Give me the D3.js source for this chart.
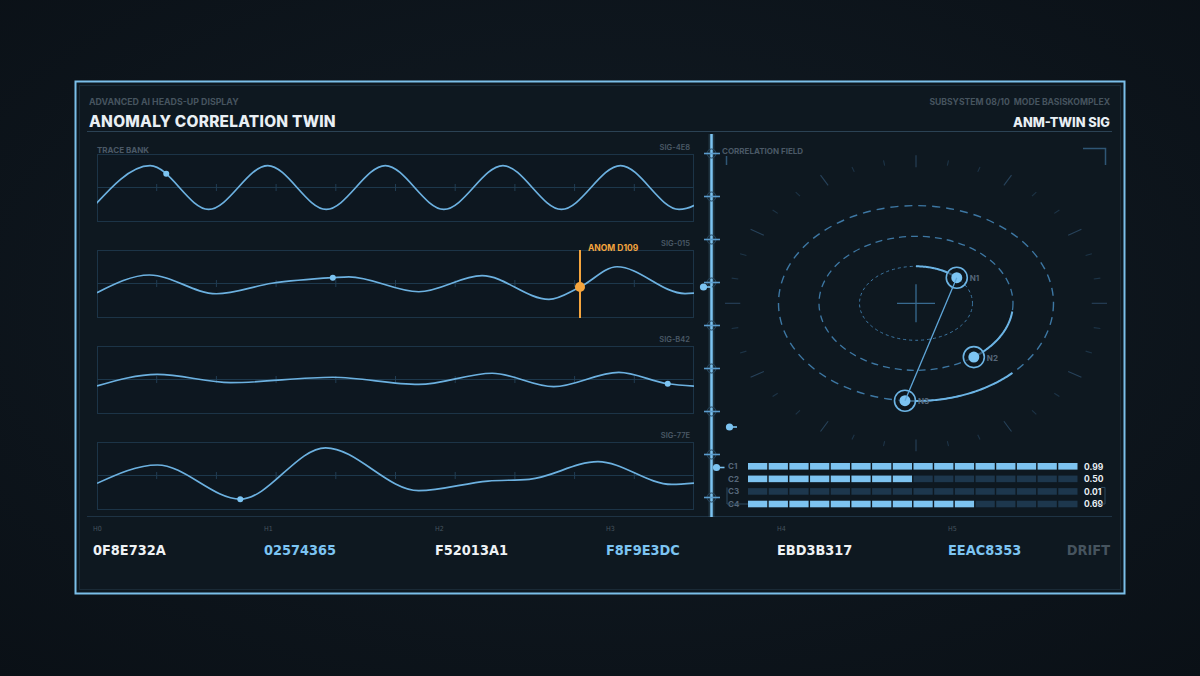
<!DOCTYPE html>
<html><head><meta charset="utf-8">
<script src="https://cdn.jsdelivr.net/npm/d3@7"></script>
<style>html,body{margin:0;padding:0;background:#0c1319;}svg{display:block}</style>
</head><body><svg id="c" width="1200" height="676"></svg>
<script>
// ---------- DATA ----------
const traceNames = ["SIG-4E8", "SIG-015", "SIG-B42", "SIG-77E"];
const sig4E8 = [[-1.0,-0.98],[8.9,0.98],[18.7,-0.98],[28.6,0.98],[38.4,-0.98],[48.3,0.98],[58.1,-0.98],[68.0,0.98],[77.8,-0.98],[87.7,0.98],[97.5,-0.98],[107.4,0.98]];
const sig015 = [[0,-0.41],[8.8,0.38],[20,-0.46],[29.3,0.01],[39.5,0.26],[42.2,0.30],[53.9,-0.37],[64.5,0.35],[75.7,-0.71],[80.9,-0.16],[87.1,0.75],[98.5,-0.45],[100,-0.43]];
const sigB42 = [[0,-0.29],[10.1,0.23],[22.4,-0.14],[39.5,0.10],[53.9,-0.22],[66.2,0.28],[76.5,-0.32],[87.4,0.32],[95.6,-0.19],[100,-0.30]];
const sig77E = [[0,-0.35],[10.1,0.47],[24.0,-1.06],[38.3,1.24],[53.9,-0.68],[65.5,-0.25],[72.4,-0.17],[83.9,0.62],[96.3,-0.40],[100,-0.34]];
const traceMarkers = [11.6, 39.5, 95.6, 24.0];
const anomalyTrace = 1, anomalyT = 80.9, anomalyLabel = "ANOM D109";

const ringRx = [56.5, 97, 137.5];
const ringRy = [37, 67, 97.7];
const nodeNames = ["N1", "N2", "N3"];
const nodeRing = [0, 1, 2];
const nodeAngle = [43.8, -53.4, -94.6];
const arcRing = [0, 1, 2];
const arcFrom = [90, -7, -94.6];
const arcTo = [43.8, -53.4, -45.5];

const corrLabels = ["C1", "C2", "C3", "C4"];
const corrValues = [0.99, 0.50, 0.01, 0.69];

const hashLabels = ["H0", "H1", "H2", "H3", "H4", "H5"];
const hashValues = ["0F8E732A", "02574365", "F52013A1", "F8F9E3DC", "EBD3B317", "EEAC8353"];

// ---------- DRAW ----------
const svg = d3.select("#c");
const FONT = "Inter, 'DejaVu Sans', sans-serif";
const COND = "'DejaVu Sans Condensed', 'DejaVu Sans', sans-serif";
const light = "#7cc4f2", wave = "#6cb1e0", dim = "#4a5866", grid = "#1c3447";

const defs = svg.append("defs");
const bg = defs.append("radialGradient").attr("id","bg").attr("cx","50%").attr("cy","45%").attr("r","75%");
bg.append("stop").attr("offset","0%").attr("stop-color","#121c25");
bg.append("stop").attr("offset","100%").attr("stop-color","#0a1016");

svg.append("rect").attr("width",1200).attr("height",676).attr("fill","url(#bg)");

// frame
svg.append("rect").attr("x",75.5).attr("y",81.5).attr("width",1049).attr("height",512)
  .attr("fill","#0e1820").attr("stroke","#7bbfe9").attr("stroke-width",2);
svg.append("rect").attr("x",79.5).attr("y",85.5).attr("width",1041).attr("height",504)
  .attr("fill","none").attr("stroke","#1a2a36").attr("stroke-width",1);

// header
svg.append("text").attr("x",89).attr("y",105).text("ADVANCED AI HEADS-UP DISPLAY")
  .attr("font-family",FONT).attr("font-weight",700).attr("font-size",8.8).attr("fill","#46545f");
svg.append("text").attr("x",89).attr("y",127).text("ANOMALY CORRELATION TWIN")
  .attr("font-family",FONT).attr("font-weight",800).attr("font-size",15.4).attr("letter-spacing",0.25).attr("fill","#e9eff4");
svg.append("text").attr("x",1110).attr("y",105).attr("text-anchor","end").text("SUBSYSTEM 08/10  MODE BASISKOMPLEX")
  .attr("font-family",FONT).attr("font-weight",700).attr("font-size",8.6).attr("fill","#46545f").attr("xml:space","preserve");
svg.append("text").attr("x",1110).attr("y",127).attr("text-anchor","end").text("ANM-TWIN SIG")
  .attr("font-family",FONT).attr("font-weight",800).attr("font-size",12.8).attr("fill","#e9eff4");
svg.append("line").attr("x1",87).attr("x2",1112).attr("y1",131.5).attr("y2",131.5).attr("stroke","#2b4254");
svg.append("line").attr("x1",87).attr("x2",1112).attr("y1",516.5).attr("y2",516.5).attr("stroke","#1e3344");

// trace bank
svg.append("text").attr("x",97).attr("y",153).text("TRACE BANK")
  .attr("font-family",FONT).attr("font-weight",700).attr("font-size",8).attr("fill",dim);
const traces = [sig4E8, sig015, sigB42, sig77E];
const tx = d3.scaleLinear().domain([0,100]).range([97,694]);
const panelTop = i => 154 + 96*i, panelH = 67;

function yAtX(node, x){
  let lo=0, hi=node.getTotalLength();
  for(let k=0;k<40;k++){ const m=(lo+hi)/2; if(node.getPointAtLength(m).x < x) lo=m; else hi=m; }
  return node.getPointAtLength((lo+hi)/2).y;
}

traces.forEach((data,i)=>{
  const top = panelTop(i);
  const ty = d3.scaleLinear().domain([-1.5,1.5]).range([top+panelH, top]);
  const g = svg.append("g");
  defs.append("clipPath").attr("id","cp"+i).append("rect").attr("x",97).attr("y",top).attr("width",597).attr("height",panelH);
  g.append("rect").attr("x",97.5).attr("y",top+0.5).attr("width",596).attr("height",panelH)
    .attr("fill","#0d1720").attr("stroke",grid);
  g.append("line").attr("x1",97).attr("x2",694).attr("y1",ty(0)).attr("y2",ty(0)).attr("stroke","#1d384c");
  const ticks = tx.ticks(10).filter(d=>d>0&&d<100);
  g.selectAll(".tk").data(ticks).join("line").attr("x1",d=>tx(d)).attr("x2",d=>tx(d))
    .attr("y1",ty(0)-3.5).attr("y2",ty(0)+3.5).attr("stroke","#213d53");
  g.append("text").attr("x",690).attr("y",top-4).attr("text-anchor","end").text(traceNames[i])
    .attr("font-family",FONT).attr("font-weight",600).attr("font-size",7.5).attr("fill",dim);
  const line = d3.line().x(d=>tx(d[0])).y(d=>ty(d[1])).curve(d3.curveMonotoneX);
  const p = g.append("path").attr("d",line(data)).attr("fill","none").attr("stroke",wave)
    .attr("stroke-width",1.7).attr("clip-path","url(#cp"+i+")");
  const mx = tx(traceMarkers[i]);
  g.append("circle").attr("cx",mx).attr("cy",yAtX(p.node(),mx)).attr("r",3).attr("fill",light);
  if(i===anomalyTrace){
    const ax = tx(anomalyT);
    g.append("line").attr("x1",ax).attr("x2",ax).attr("y1",top).attr("y2",top+panelH+1)
      .attr("stroke","#f5a53e").attr("stroke-width",2);
    g.append("circle").attr("cx",ax).attr("cy",yAtX(p.node(),ax)).attr("r",5).attr("fill","#f5a53e");
    g.append("text").attr("x",ax+8).attr("y",top+1).text(anomalyLabel)
      .attr("font-family",FONT).attr("font-weight",700).attr("font-size",8.5).attr("fill","#f5a53e");
  }
});

// spine
const spineX = 711.5;
const spineTicks = d3.range(9).map(k=>153.5+43*k);
svg.append("line").attr("x1",spineX).attr("x2",spineX).attr("y1",134).attr("y2",517)
  .attr("stroke",light).attr("stroke-width",6).attr("opacity",0.15);
svg.append("line").attr("x1",spineX).attr("x2",spineX).attr("y1",134).attr("y2",517)
  .attr("stroke",light).attr("stroke-width",2.5);
svg.selectAll(".sc").data(spineTicks).join("circle").attr("cx",spineX).attr("cy",d=>d).attr("r",4.5)
  .attr("fill","none").attr("stroke","#28475f").attr("stroke-width",1);
svg.selectAll(".st").data(spineTicks).join("line").attr("x1",704).attr("x2",720).attr("y1",d=>d).attr("y2",d=>d)
  .attr("stroke","#5b9ccc").attr("stroke-width",1.6);
const spineMarkers = [[703.5,712,287],[729.5,737,427],[716.5,724.5,467.5]];
spineMarkers.forEach(m=>{
  svg.append("line").attr("x1",m[0]).attr("x2",m[1]).attr("y1",m[2]).attr("y2",m[2]).attr("stroke",light).attr("stroke-width",1.6);
  svg.append("circle").attr("cx",m[0]).attr("cy",m[2]).attr("r",3.6).attr("fill",light);
});

// correlation field
const cx = 916, cy = 303.3;
const rg = svg.append("g");
rg.append("path").attr("d","M726.5,165 V148.5 H748").attr("fill","none").attr("stroke","#2f5675").attr("stroke-width",1.5);
rg.append("path").attr("d","M1083,148.5 H1105.5 V165").attr("fill","none").attr("stroke","#2f5675").attr("stroke-width",1.5);
rg.append("rect").attr("x",724).attr("y",145).attr("width",86).attr("height",11).attr("fill","#0e1820");
rg.append("text").attr("x",722).attr("y",154).text("CORRELATION FIELD")
  .attr("font-family",FONT).attr("font-weight",700).attr("font-size",8).attr("fill",dim);

// radial ticks
const tickAngles = d3.range(0,360,10);
const TRX = 191, TRY = 148;
rg.selectAll(".rt").data(tickAngles).join("line")
  .attr("x1",d=>cx+TRX*(d%30===0?0.92:0.945)*Math.cos(d*Math.PI/180))
  .attr("y1",d=>cy-TRY*(d%30===0?0.92:0.945)*Math.sin(d*Math.PI/180))
  .attr("x2",d=>cx+TRX*(d%30===0?1.0:0.98)*Math.cos(d*Math.PI/180))
  .attr("y2",d=>cy-TRY*(d%30===0?1.0:0.98)*Math.sin(d*Math.PI/180))
  .attr("stroke",d=>d%30===0?"#27425a":"#1d3447").attr("stroke-width",1.1);

// ellipses
const ringDash = ["3 3","7 5","8 6"];
const ringW = [1,1.3,1.4];
ringRx.forEach((rx,i)=>{
  rg.append("ellipse").attr("cx",cx).attr("cy",cy).attr("rx",rx).attr("ry",ringRy[i])
    .attr("fill","none").attr("stroke","#3d77a3").attr("stroke-width",ringW[i]).attr("stroke-dasharray",ringDash[i]);
});
rg.append("path").attr("d",`M${cx-19},${cy}H${cx+19}M${cx},${cy-19}V${cy+19}`).attr("stroke","#386a90").attr("stroke-width",1.3);

const ePt = (ring,deg)=>[cx+ringRx[ring]*Math.cos(deg*Math.PI/180), cy-ringRy[ring]*Math.sin(deg*Math.PI/180)];
const arcLine = d3.line();
arcRing.forEach((r,i)=>{
  const pts = d3.range(0,61).map(k=>ePt(r, arcFrom[i]+(arcTo[i]-arcFrom[i])*k/60));
  rg.append("path").attr("d",arcLine(pts)).attr("fill","none").attr("stroke","#6cb4e4").attr("stroke-width",2);
});
const nodes = nodeNames.map((n,i)=>({name:n, p:ePt(nodeRing[i], nodeAngle[i])}));
nodes.forEach(n=>{
  rg.append("circle").attr("cx",n.p[0]).attr("cy",n.p[1]).attr("r",10.5).attr("fill","#0e1820").attr("fill-opacity",0.6)
    .attr("stroke","#6cb4e4").attr("stroke-width",1.6);
  rg.append("circle").attr("cx",n.p[0]).attr("cy",n.p[1]).attr("r",5.5).attr("fill",light);
  rg.append("text").attr("x",n.p[0]+13).attr("y",n.p[1]+3.5).text(n.name)
    .attr("font-family",FONT).attr("font-weight",700).attr("font-size",8).attr("fill","#56677a");
});
rg.append("line").attr("x1",nodes[0].p[0]).attr("y1",nodes[0].p[1]).attr("x2",nodes[2].p[0]).attr("y2",nodes[2].p[1])
  .attr("stroke","#5fa6d8").attr("stroke-width",1.3);

// correlation bars
const segs = d3.range(16);
const bx = d3.scaleBand().domain(segs).range([748,1077.5]).paddingInner(0.07);
const by = d3.scalePoint().domain(corrLabels).range([466.3,504]);
const bg2 = svg.append("g");
corrLabels.forEach((c,i)=>{
  const filled = Math.round(corrValues[i]*16);
  bg2.selectAll(".s"+i).data(segs).join("rect").attr("x",d=>bx(d)).attr("y",by(c)-3.3)
    .attr("width",bx.bandwidth()).attr("height",6.6)
    .attr("fill",d=>d<filled?"#7dc3f0":"#1d374d");
  bg2.append("text").attr("x",728).attr("y",by(c)+3).text(c)
    .attr("font-family",FONT).attr("font-weight",700).attr("font-size",8).attr("fill","#56677a");
  bg2.append("text").attr("x",1084).attr("y",by(c)+3.2).text(corrValues[i].toFixed(2))
    .attr("font-family",FONT).attr("font-weight",700).attr("font-size",8.5).attr("fill","#e9eff4");
});
bg2.append("path").attr("d",`M727,${by("C3")-4}V${by("C4")}H748`).attr("fill","none").attr("stroke","#2c4a61");
bg2.append("path").attr("d",`M1101,${by("C3")-4}H1105V${by("C4")}H1101`).attr("fill","none").attr("stroke","#2c4a61");

// hash row
const hx = d3.scalePoint().domain(hashLabels).range([93,948]);
hashLabels.forEach((h,i)=>{
  svg.append("text").attr("x",hx(h)).attr("y",531).text(h)
    .attr("font-family",COND).attr("font-size",7).attr("fill","#46545f");
  svg.append("text").attr("x",hx(h)).attr("y",555).text(hashValues[i])
    .attr("font-family",COND).attr("font-stretch","condensed").attr("font-weight",700).attr("font-size",14.4)
    .attr("fill", i%2===0 ? "#eef2f5" : "#7cc4f2");
});
svg.append("text").attr("x",1110).attr("y",555).attr("text-anchor","end").text("DRIFT")
  .attr("font-family",COND).attr("font-stretch","condensed").attr("font-weight",700).attr("font-size",14.4).attr("fill","#46545f");
</script></body></html>
